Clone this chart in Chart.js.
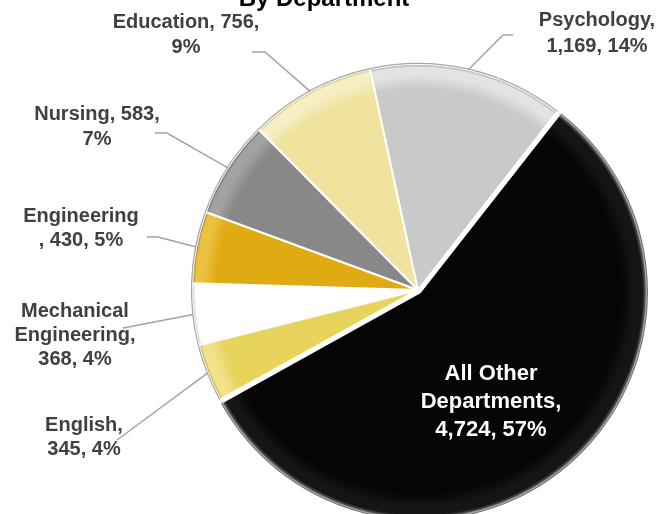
<!DOCTYPE html>
<html lang="en">

<head>
  <meta charset="UTF-8">
  <title>Students By Department</title>
  <script src="https://cdn.jsdelivr.net/npm/chart.js"></script>
  <style>
    html, body { margin: 0; padding: 0; background: #fff; }
    #wrap { width: 664px; height: 514px; }
  </style>
</head>

<body>
  <div id="wrap"><canvas id="myChart" width="664" height="514"></canvas></div>

  <script>
    // Data (clockwise from the top-right edge of the black slice)
    const categories = ['All Other Departments', 'English', 'Mechanical Engineering', 'Engineering', 'Nursing', 'Education', 'Psychology'];
    const students = [4724, 345, 368, 430, 583, 756, 1169];
    const percentLabels = ['57%', '4%', '4%', '5%', '7%', '9%', '14%'];
    const chartTitle = 'By Department';

    // Styles
    const FONT = '"Liberation Sans", Arial, sans-serif';
    const pieRadius = 226;
    const sliceColors = ['#050505', '#e8d35c', '#ffffff', '#e0aa12', '#888888', '#f0e3a0', '#c9c9c9'];
    const sliceLight  = ['#151515', '#f2e28a', '#ffffff', '#ecc040', '#a2a2a2', '#f7efc4', '#e3e3e3'];
    const sliceEdge   = ['#6a6a6a', '#b59d2a', '#bdbdbd', '#a87c05', '#5e5e5e', '#c9b96a', '#9a9a9a'];

    // Label placement: text centre x, first baseline y, where lines break, leader points on the text side
    const labelLayout = [
      { x: 491, y: 380, lh: 28, size: 22, color: '#ffffff', breaks: [9, 22], leader: null },
      { x: 84, y: 431, lh: 23.5, size: 20, color: '#404040', breaks: [8], leader: [[117, 440]] },
      { x: 75, y: 317, lh: 24, size: 20, color: '#404040', breaks: [10, 23], leader: [[123, 328]] },
      { x: 81, y: 222, lh: 24, size: 20, color: '#404040', breaks: [11], leader: [[147, 237], [158, 237]] },
      { x: 97, y: 120, lh: 25, size: 20, color: '#404040', breaks: [13], leader: [[155, 133], [167, 133]] },
      { x: 186, y: 28, lh: 25, size: 20, color: '#404040', breaks: [15], leader: [[252, 52], [265, 52]] },
      { x: 597, y: 26, lh: 26, size: 20, color: '#404040', breaks: [11], leader: [[513, 35], [503, 35]] }
    ];

    function labelLines(i) {
      const full = categories[i] + ', ' + students[i].toLocaleString('en-US') + ', ' + percentLabels[i];
      const cuts = [0].concat(labelLayout[i].breaks, [full.length]);
      const lines = [];
      for (let k = 0; k < cuts.length - 1; k++) {
        lines.push(full.slice(cuts[k], cuts[k + 1]).trim());
      }
      return lines;
    }

    function sliceFill(context) {
      const i = context.dataIndex;
      const area = context.chart.chartArea;
      if (!area) return sliceColors[i];
      const cx = (area.left + area.right) / 2;
      const cy = (area.top + area.bottom) / 2;
      const g = context.chart.ctx.createRadialGradient(cx, cy, 0, cx, cy, pieRadius);
      g.addColorStop(0, sliceColors[i]);
      g.addColorStop(0.89, sliceColors[i]);
      g.addColorStop(0.95, sliceLight[i]);
      g.addColorStop(0.985, sliceLight[i]);
      g.addColorStop(1, sliceEdge[i]);
      return g;
    }

    const labelPlugin = {
      id: 'sliceLabels',
      afterDatasetsDraw(chart) {
        const ctx = chart.ctx;
        const meta = chart.getDatasetMeta(0);
        ctx.save();

        // thin grey rim round the pie
        meta.data.forEach(arc => {
          const mid = (arc.startAngle + arc.endAngle) / 2;
          const off = (arc.options.offset || 0) / 4;
          ctx.beginPath();
          ctx.arc(arc.x + Math.cos(mid) * off, arc.y + Math.sin(mid) * off, arc.outerRadius + 0.5, arc.startAngle, arc.endAngle);
          ctx.strokeStyle = '#a6a6a6';
          ctx.lineWidth = 1.2;
          ctx.stroke();
        });

        // leader lines
        meta.data.forEach((arc, i) => {
          const lay = labelLayout[i];
          if (!lay.leader) return;
          const mid = (arc.startAngle + arc.endAngle) / 2;
          ctx.beginPath();
          ctx.moveTo(lay.leader[0][0], lay.leader[0][1]);
          lay.leader.slice(1).forEach(p => ctx.lineTo(p[0], p[1]));
          ctx.lineTo(arc.x + Math.cos(mid) * arc.outerRadius, arc.y + Math.sin(mid) * arc.outerRadius);
          ctx.strokeStyle = '#a3a3a3';
          ctx.lineWidth = 1.5;
          ctx.stroke();
        });

        // label text
        ctx.textAlign = 'center';
        ctx.textBaseline = 'alphabetic';
        labelLayout.forEach((lay, i) => {
          ctx.font = 'bold ' + lay.size + 'px ' + FONT;
          ctx.fillStyle = lay.color;
          labelLines(i).forEach((line, k) => ctx.fillText(line, lay.x, lay.y + k * lay.lh));
        });

        // title, cut off by the top edge as in the original
        ctx.font = 'bold 24px ' + FONT;
        ctx.fillStyle = '#000000';
        ctx.fillText(chartTitle, 324, 6);
        ctx.restore();
      }
    };

    const ctx = document.getElementById('myChart').getContext('2d');
    const myChart = new Chart(ctx, {
      type: 'pie',
      data: {
        labels: categories,
        datasets: [{
          data: students,
          backgroundColor: sliceFill,
          borderColor: '#ffffff',
          borderWidth: 2,
          offset: [12, 0, 0, 0, 0, 0, 0],
          radius: pieRadius
        }]
      },
      options: {
        responsive: false,
        animation: false,
        events: [],
        rotation: 38,
        layout: { padding: { left: 172, right: 0, top: 66, bottom: 0 } },
        plugins: {
          legend: { display: false },
          tooltip: { enabled: false },
          title: { display: false }
        }
      },
      plugins: [labelPlugin]
    });
  </script>

</body>

</html>
